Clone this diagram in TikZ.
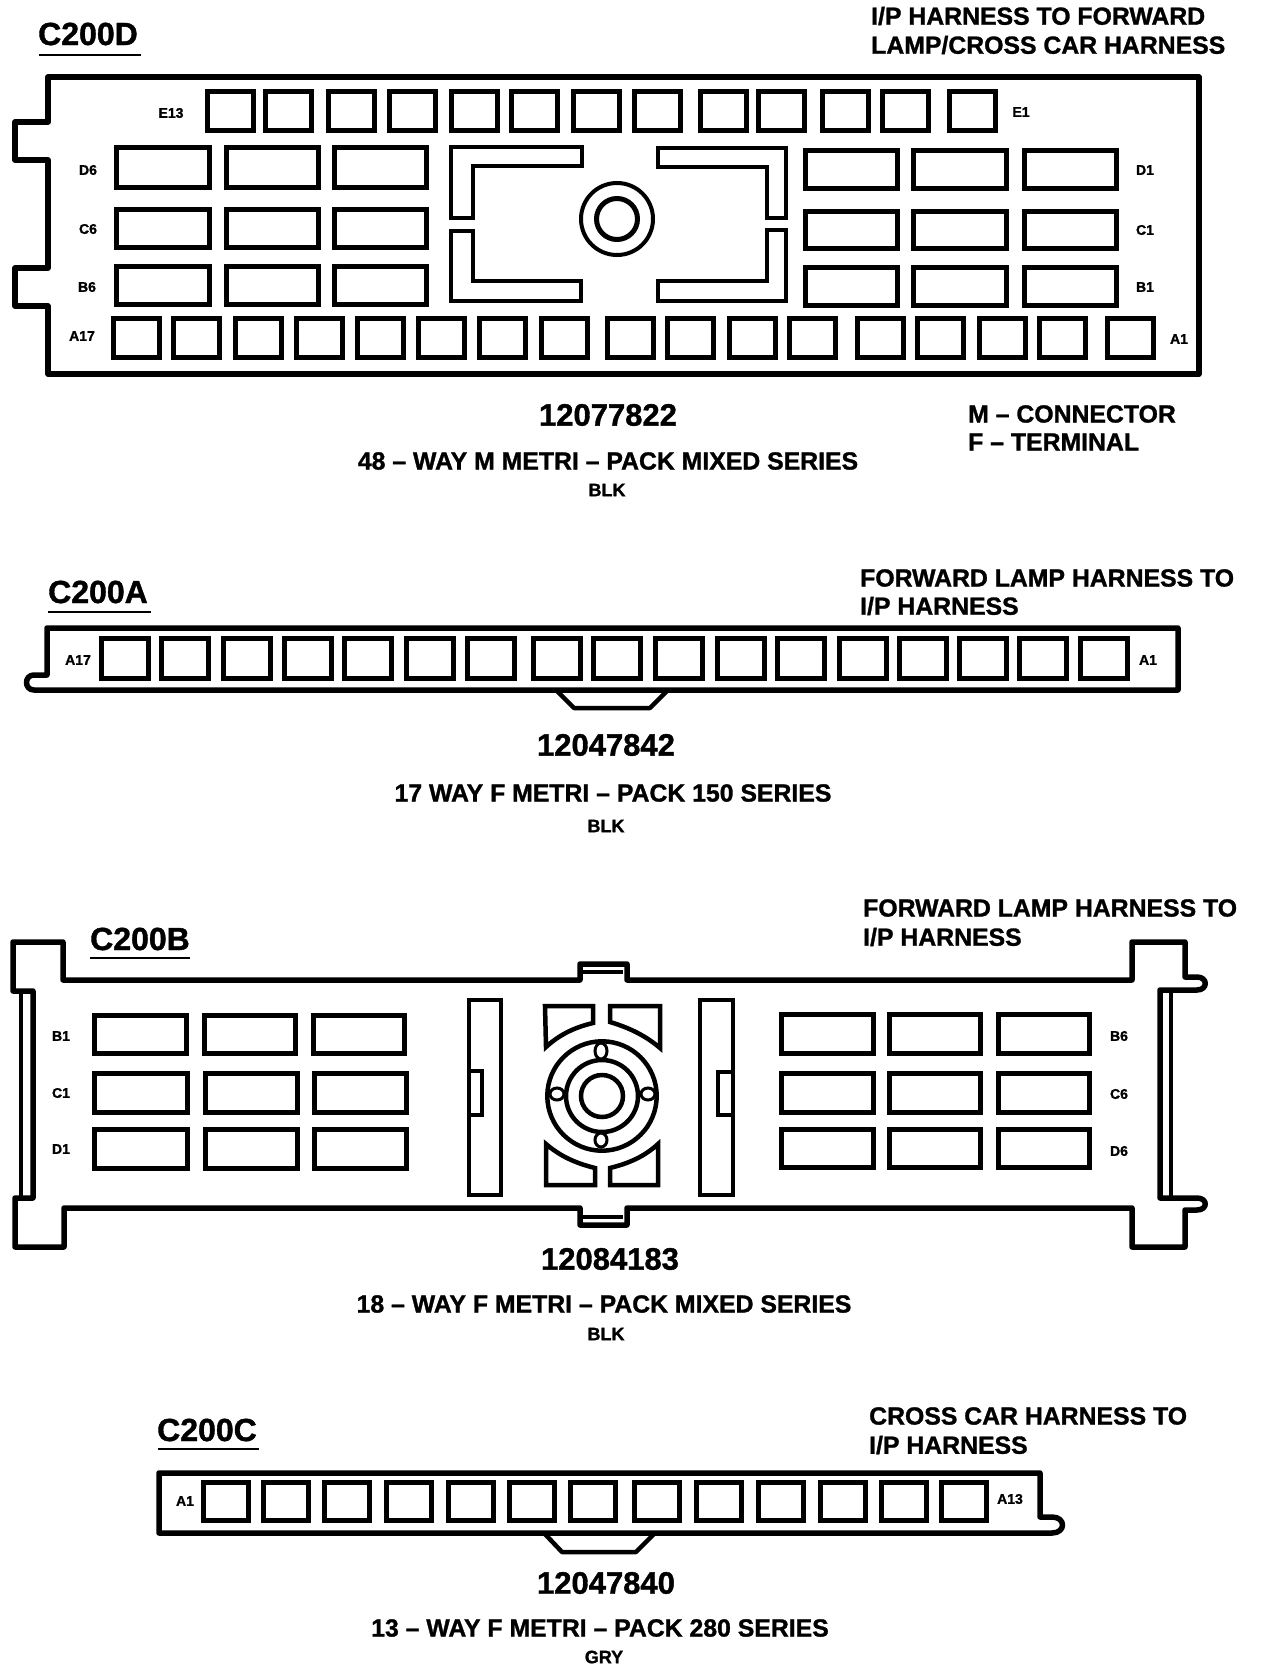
\documentclass[tikz,border=0pt]{standalone}
\usepackage{fontspec}
\setmainfont{Liberation Sans}
\newfontfamily\hv[FakeBold=1.2]{Liberation Sans Bold}
\tikzset{
 shell/.style={draw=black,line width=5.5pt,line join=round,fill=none},
 thin shell/.style={draw=black,line width=4.5pt,line join=round},
 pin/.style={draw=black,line width=5pt,line join=miter,fill=white},
 rib/.style={draw=black,line width=4.5pt,line join=miter},
 uline/.style={draw=black,line width=2.5pt},
 title/.style={font=\hv\fontsize{32}{32}\selectfont,inner sep=0,anchor=west},
 part/.style={font=\hv\fontsize{31}{31}\selectfont,inner sep=0},
 note/.style={font=\hv\fontsize{24.8}{24.8}\selectfont,inner sep=0,anchor=west},
 desc/.style={font=\hv\fontsize{24.8}{24.8}\selectfont,inner sep=0},
 clr/.style={font=\hv\fontsize{18}{18}\selectfont,inner sep=0},
 lab/.style={font=\hv\fontsize{14}{14}\selectfont,inner sep=0},
}
\begin{document}
\begin{tikzpicture}[x=1pt,y=-1pt]
\useasboundingbox (0,0) rectangle (1280,1672);
\fill[white] (0,0) rectangle (1280,1672);

% ---------- C200D ----------
\node[title] (td) at (38,34) {C200D};
\draw[uline] (39,55) -- (141,55);
\node[note] (nd1) at (871,16) {I/P HARNESS TO FORWARD};
\node[note] (nd2) at (871,45) {LAMP/CROSS CAR HARNESS};
\draw[shell] (48,77) -- (1199,77) -- (1199,374) -- (48,374) -- (48,306) -- (15,306) -- (15,268) -- (48,268)
  -- (48,160) -- (15,160) -- (15,122) -- (48,122) -- cycle;
\foreach \a in {207,265,328,389,451,511,573,634,700,758,822,882,949}
  \draw[pin] (\a,92) rectangle ++(46,39);
\foreach \a in {113,173,235,296,357,418,479,541,607,667,729,789,857,917,979,1039,1107}
  \draw[pin] (\a,318) rectangle ++(46,39);
\foreach \a/\b in {116/209,226/318,334/426} {
  \draw[pin] (\a,148) rectangle (\b,188);
  \draw[pin] (\a,209) rectangle (\b,247);
  \draw[pin] (\a,266) rectangle (\b,304);
}
\foreach \a/\b in {805/897,913/1006,1024/1116} {
  \draw[pin] (\a,151) rectangle (\b,189);
  \draw[pin] (\a,211) rectangle (\b,248);
  \draw[pin] (\a,267) rectangle (\b,305);
}
\draw[rib] (451,147) -- (582,147) -- (582,166) -- (473,166) -- (473,218) -- (451,218) -- cycle;
\draw[rib] (451,231) -- (473,231) -- (473,281) -- (581,281) -- (581,301) -- (451,301) -- cycle;
\draw[rib] (658,148) -- (786,148) -- (786,218) -- (767,218) -- (767,167) -- (658,167) -- cycle;
\draw[rib] (786,230) -- (767,230) -- (767,281) -- (658,281) -- (658,301) -- (786,301) -- cycle;
\draw[line width=4pt] (617,219) circle (36);
\draw[line width=5pt] (617,219) circle (20.5);
\node[lab] (e13) at (171,113) {E13};
\node[lab] (d6) at (88,170) {D6};
\node[lab] (c6) at (88,229) {C6};
\node[lab] (b6) at (87,287) {B6};
\node[lab] (a17) at (82,336) {A17};
\node[lab] (e1) at (1021,112) {E1};
\node[lab] (d1) at (1145,170) {D1};
\node[lab] (c1) at (1145,230) {C1};
\node[lab] (b1) at (1145,287) {B1};
\node[lab] (a1) at (1179,339) {A1};
\node[part] (pd) at (608,415) {12077822};
\node[desc] (dd) at (608,461) {48 – WAY M METRI – PACK MIXED SERIES};
\node[clr] (cd) at (607,490) {BLK};
\node[note] (md) at (968,414) {M – CONNECTOR};
\node[note] (fd) at (968,442) {F – TERMINAL};

% ---------- C200A ----------
\node[title] (ta) at (48,592) {C200A};
\draw[uline] (48,612) -- (151,612);
\node[note] (na1) at (860,578) {FORWARD LAMP HARNESS TO};
\node[note] (na2) at (860,606) {I/P HARNESS};
\draw[shell] (47,628) -- (1178,628) -- (1178,690) -- (34,690)
  .. controls (24,690) and (24,675) .. (34,675) -- (47,675) -- cycle;
\foreach \a in {101,161,223,284,344,406,467,533,593,655,717,777,839,899,959,1019,1080}
  \draw[pin] (\a,638) rectangle ++(47,40);
\draw[thin shell] (556,690) -- (574,708) -- (650,708) -- (668,690);
\node[lab] (a17a) at (78,660) {A17};
\node[lab] (a1a) at (1148,660) {A1};
\node[part] (pa) at (606,745) {12047842};
\node[desc] (da) at (613,793) {17 WAY F METRI – PACK 150 SERIES};
\node[clr] (ca) at (606,826) {BLK};

% ---------- C200B ----------
\node[title] (tb) at (90,939) {C200B};
\draw[uline] (90,958) -- (190,958);
\node[note] (nb1) at (863,908) {FORWARD LAMP HARNESS TO};
\node[note] (nb2) at (863,937) {I/P HARNESS};
\draw[shell] (13,942) -- (63,942) -- (63,980) -- (580,980) -- (580,964) -- (627,964) -- (627,980) -- (1132,980)
  -- (1132,942) -- (1185,942) -- (1185,977) -- (1197,977) .. controls (1208,977) and (1208,990) .. (1197,990)
  -- (1160,990) -- (1160,1198) -- (1197,1198) .. controls (1208,1198) and (1208,1210) .. (1197,1210)
  -- (1185,1210) -- (1185,1247) -- (1132,1247) -- (1132,1208) -- (627,1208) -- (627,1225) -- (580,1225)
  -- (580,1208) -- (64,1208) -- (64,1247) -- (15,1247) -- (15,1198) -- (33,1198) -- (33,991) -- (13,991) -- cycle;
\draw[rib] (21,991) -- (21,1198);
\draw[rib] (1171,990) -- (1171,1198);
\draw[line width=3.5pt] (582,972) -- (623,972);
\draw[line width=3.5pt] (582,1217) -- (623,1217);
\foreach \a/\b in {94/186,204/295,313/404} \draw[pin] (\a,1015) rectangle (\b,1053);
\foreach \a/\b in {94/187,205/297,314/406} {
  \draw[pin] (\a,1073) rectangle (\b,1112);
  \draw[pin] (\a,1129) rectangle (\b,1168);
}
\foreach \a/\b in {781/873,889/980,998/1089} {
  \draw[pin] (\a,1014) rectangle (\b,1053);
  \draw[pin] (\a,1073) rectangle (\b,1112);
  \draw[pin] (\a,1129) rectangle (\b,1167);
}
\draw[rib] (469,1000) rectangle (501,1195);
\draw[rib] (469,1071) rectangle (482,1115);
\draw[rib] (700,1000) rectangle (733,1195);
\draw[rib] (718,1072) rectangle (733,1115);
\draw[rib] (545,1006) -- (593,1006) -- (593,1023) .. controls (572,1028) and (558,1036) .. (546,1047) -- cycle;
\draw[rib] (610,1006) -- (660,1006) -- (660,1048) .. controls (646,1036) and (630,1028) .. (610,1022) -- cycle;
\draw[rib] (546,1144) .. controls (560,1156) and (575,1163) .. (595,1168) -- (595,1185) -- (546,1185) -- cycle;
\draw[rib] (658,1144) .. controls (645,1156) and (630,1163) .. (610,1168) -- (610,1185) -- (658,1185) -- cycle;
\draw[line width=4.5pt] (602,1096) circle (54.7);
\draw[line width=4.5pt] (602,1096) circle (36);
\draw[line width=4.5pt] (602,1096) circle (21);
\draw[line width=3pt,fill=white] (601,1051) ellipse (6 and 8);
\draw[line width=3pt,fill=white] (601,1140) ellipse (6 and 7);
\draw[line width=3pt,fill=white] (557,1094) ellipse (7 and 6);
\draw[line width=3pt,fill=white] (648,1094) ellipse (7 and 6);
\node[lab] (b1b) at (61,1036) {B1};
\node[lab] (c1b) at (61,1093) {C1};
\node[lab] (d1b) at (61,1149) {D1};
\node[lab] (b6b) at (1119,1036) {B6};
\node[lab] (c6b) at (1119,1094) {C6};
\node[lab] (d6b) at (1119,1151) {D6};
\node[part] (pb) at (610,1259) {12084183};
\node[desc] (db) at (604,1304) {18 – WAY F METRI – PACK MIXED SERIES};
\node[clr] (cb) at (606,1334) {BLK};

% ---------- C200C ----------
\node[title] (tc) at (157,1430) {C200C};
\draw[uline] (158,1449) -- (259,1449);
\node[note] (nc1) at (869,1416) {CROSS CAR HARNESS TO};
\node[note] (nc2) at (869,1445) {I/P HARNESS};
\draw[shell] (159,1473) -- (1040,1473) -- (1040,1517) -- (1052,1517) .. controls (1066,1517) and (1066,1533) .. (1052,1533)
  -- (159,1533) -- cycle;
\foreach \a in {203,263,324,386,448,509,570,634,696,758,820,881,941}
  \draw[pin] (\a,1482) rectangle ++(45,38);
\draw[thin shell] (544,1533) -- (562,1552) -- (636,1552) -- (655,1533);
\node[lab] (a1c) at (185,1501) {A1};
\node[lab] (a13c) at (1010,1499) {A13};
\node[part] (pc) at (606,1583) {12047840};
\node[desc] (dc) at (600,1628) {13 – WAY F METRI – PACK 280 SERIES};
\node[clr] (cc) at (604,1657) {GRY};
\end{tikzpicture}
\end{document}
